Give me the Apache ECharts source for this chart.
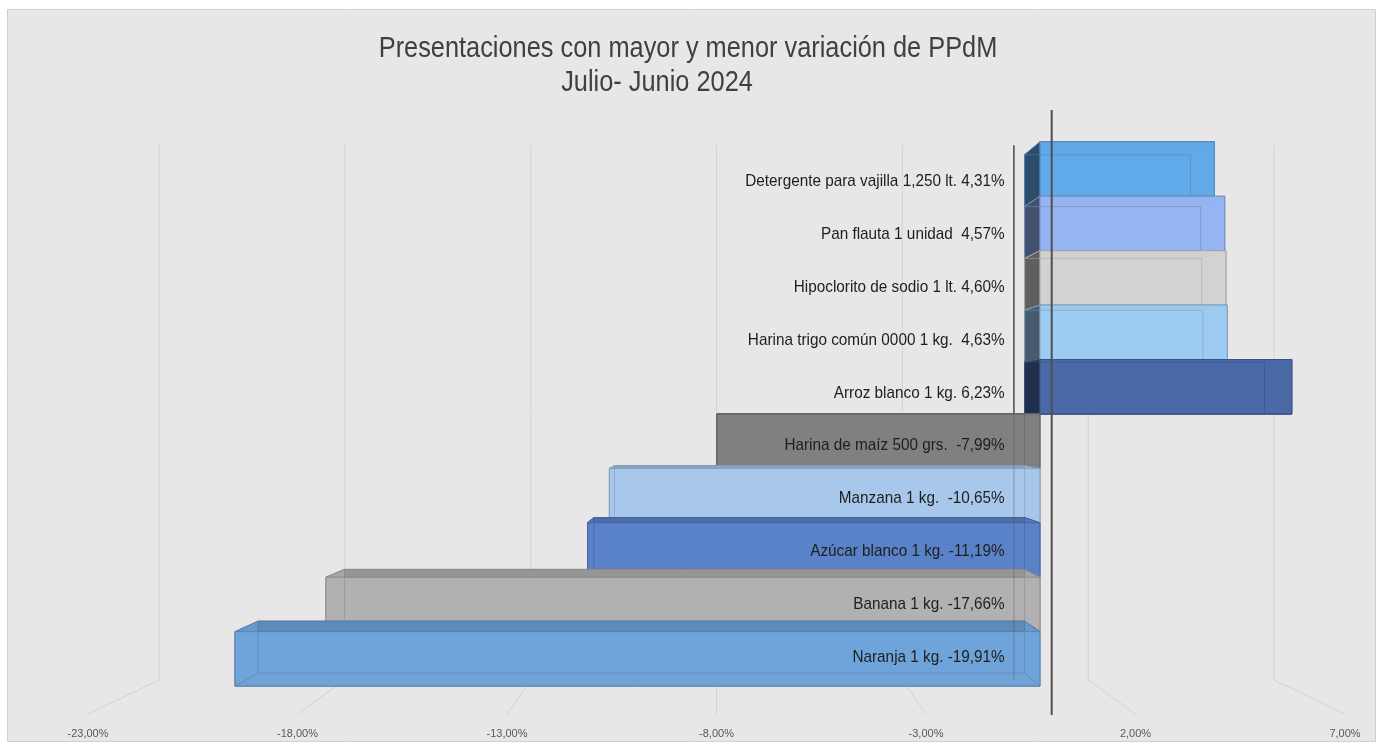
<!DOCTYPE html>
<html>
<head>
<meta charset="utf-8">
<script src="https://cdn.jsdelivr.net/npm/echarts@6/dist/echarts.min.js"></script>
<style>
html,body{margin:0;padding:0;background:#ffffff;}
#c{width:1383px;height:749px;}
</style>
</head>
<body>
<div id="c"></div>
<script>
// ---------- data ----------
const categories = [
  'Detergente para vajilla 1,250 lt.',
  'Pan flauta 1 unidad ',
  'Hipoclorito de sodio 1 lt.',
  'Harina trigo común 0000 1 kg. ',
  'Arroz blanco 1 kg.',
  'Harina de maíz 500 grs. ',
  'Manzana 1 kg. ',
  'Azúcar blanco 1 kg.',
  'Banana 1 kg.',
  'Naranja 1 kg.'
];
const values = [4.31, 4.57, 4.60, 4.63, 6.23, -7.99, -10.65, -11.19, -17.66, -19.91];
const tickValues = [-23, -18, -13, -8, -3, 2, 7];
const titleLine1 = 'Presentaciones con mayor y menor variación de PPdM';
const titleLine2 = 'Julio- Junio 2024';

// ---------- style ----------
const barColors = ['#62aaea', '#97b5f2', '#d3d3d3', '#9ecbf2', '#4a69a8',
                   '#808080', '#a8c8eb', '#5a82c9', '#b2b2b2', '#6fa5da'];
const FONT = '"Liberation Sans","Arial",sans-serif';
const VP = [717, 413];          // perspective vanishing point
const F_FRONT = 0.965, F_BACK = 0.919, F_WALL = 0.887;
const WALL_TOP = 111, FLOOR = 714;

function proj(x, y, f) { return [VP[0] + (x - VP[0]) * f, VP[1] + (y - VP[1]) * f]; }
function shade(hex, k) {
  const n = parseInt(hex.slice(1), 16);
  const r = Math.round(((n >> 16) & 255) * k), g = Math.round(((n >> 8) & 255) * k), b = Math.round((n & 255) * k);
  return 'rgb(' + Math.min(r,255) + ',' + Math.min(g,255) + ',' + Math.min(b,255) + ')';
}
function pct(v) { return v.toFixed(2).replace('.', ',') + '%'; }

const chart = echarts.init(document.getElementById('c'));

function gridRender(params, api) {
  const X = api.coord([api.value(0), 0])[0];
  const t = proj(X, WALL_TOP, F_WALL), b = proj(X, FLOOR, F_WALL);
  return { type: 'polyline', shape: { points: [t, b, [X, FLOOR]] },
           style: { stroke: '#d4d3d3', lineWidth: 1, fill: null } };
}

function zeroBackRender(op) {
  return function (params, api) {
    const X = api.coord([0, 0])[0];
    const t = proj(X, WALL_TOP, F_WALL), b = proj(X, FLOOR, F_WALL);
    return { type: 'line', shape: { x1: t[0], y1: t[1], x2: b[0], y2: b[1] },
             style: { stroke: '#555555', lineWidth: 1.5, opacity: op } };
  };
}
function zeroFrontRender(params, api) {
  const X = api.coord([0, 0])[0];
  return { type: 'line', shape: { x1: X, y1: WALL_TOP - 1, x2: X, y2: FLOOR + 1 },
           style: { stroke: '#505050', lineWidth: 2 } };
}

function barRender(params, api) {
  const v = api.value(0), i = api.value(1);
  const c = barColors[i];
  const p0 = api.coord([0, i]), p1 = api.coord([v, i]);
  const h = api.size([0, 1])[1];
  const yT = p0[1] - h / 2, yB = p0[1] + h / 2;
  const x0 = p0[0], x1 = p1[0];
  const F = (x, y) => proj(x, y, F_FRONT), B = (x, y) => proj(x, y, F_BACK);
  const edge = shade(c, 0.78);
  const poly = (pts, fill, stroke, op) => ({ type: 'polygon', shape: { points: pts },
    style: { fill: fill, stroke: stroke, lineWidth: 1, opacity: op == null ? 1 : op } });
  const children = [];
  children.push(poly([B(x0,yT), B(x1,yT), B(x1,yB), B(x0,yB)], shade(c, 0.95), edge));
  children.push(poly([F(x0,yT), F(x1,yT), B(x1,yT), B(x0,yT)], shade(c, 0.84), edge));
  children.push(poly([F(x0,yB), F(x1,yB), B(x1,yB), B(x0,yB)], shade(c, 0.84), edge));
  children.push(poly([F(x1,yT), B(x1,yT), B(x1,yB), F(x1,yB)], shade(c, 0.93), edge));
  children.push(poly([F(x0,yT), B(x0,yT), B(x0,yB), F(x0,yB)], v > 0 ? shade(c, 0.45) : shade(c, 0.93), edge));
  children.push(poly([F(x0,yT), F(x1,yT), F(x1,yB), F(x0,yB)], c, edge, 0.93));
  children.push({ type: 'polyline', shape: { points: [B(x0,yT), B(x1,yT), B(x1,yB), B(x0,yB), B(x0,yT)] },
    style: { stroke: edge, lineWidth: 1, fill: null, opacity: 0.55 } });
  children.push({ type: 'line', shape: { x1: F(x1,yB)[0], y1: F(x1,yB)[1], x2: B(x1,yB)[0], y2: B(x1,yB)[1] },
    style: { stroke: edge, lineWidth: 1, opacity: 0.55 } });
  children.push({ type: 'line', shape: { x1: F(x0,yB)[0], y1: F(x0,yB)[1], x2: B(x0,yB)[0], y2: B(x0,yB)[1] },
    style: { stroke: edge, lineWidth: 1, opacity: 0.55 } });
  return { type: 'group', children: children };
}

function labelRender(params, api) {
  const v = api.value(0), i = api.value(1);
  const p0 = api.coord([0, i]);
  const yf = VP[1] + (p0[1] - VP[1]) * F_FRONT;
  const ly = 593 + (yf - 593) * 0.97;
  return { type: 'text', x: p0[0] - 47, y: ly, scaleX: 0.9,
    style: { x: 0, y: 0, text: categories[i] + ' ' + pct(v),
      align: 'right', verticalAlign: 'middle', fill: '#1e1e1e', font: '17px ' + FONT } };
}

const barData = values.map((v, i) => [v, i]);

chart.setOption({
  backgroundColor: '#ffffff',
  animation: false,
  graphic: [
    { type: 'rect', z: -10, silent: true, shape: { x: 7.5, y: 9.5, width: 1368, height: 732 },
      style: { fill: '#e8e6e7', stroke: '#d0d0d0', lineWidth: 1 } },
    { type: 'text', z: 10, silent: true, x: 688, y: 49, scaleX: 0.845,
      style: { text: titleLine1, align: 'center', verticalAlign: 'middle', fill: '#404040', font: '30px ' + FONT } },
    { type: 'text', z: 10, silent: true, x: 657, y: 83, scaleX: 0.845,
      style: { text: titleLine2, align: 'center', verticalAlign: 'middle', fill: '#404040', font: '30px ' + FONT } }
  ],
  grid: { left: 88, right: 38, top: 132, bottom: 53 },
  xAxis: {
    type: 'value', min: tickValues[0], max: tickValues[tickValues.length - 1], interval: 5,
    axisLine: { show: false }, axisTick: { show: false }, splitLine: { show: false },
    axisLabel: { margin: 32, formatter: v => pct(v), color: '#595959', fontFamily: FONT, fontSize: 11 }
  },
  yAxis: { type: 'category', data: categories, inverse: true, show: false },
  series: [
    { type: 'custom', name: 'grid', renderItem: gridRender, data: tickValues.map(v => [v]), z: 1, silent: true },
    { type: 'custom', name: 'zeroBack', renderItem: zeroBackRender(1), data: [[0]], z: 2, silent: true },
    { type: 'custom', name: 'bars', renderItem: barRender, data: barData, encode: { x: 0, y: 1 }, z: 3 },
    { type: 'custom', name: 'zeroBackGhost', renderItem: zeroBackRender(0.3), data: [[0]], z: 4, silent: true },
    { type: 'custom', name: 'labels', renderItem: labelRender, data: barData, encode: { x: 0, y: 1 }, z: 5, silent: true },
    { type: 'custom', name: 'zeroFront', renderItem: zeroFrontRender, data: [[0]], z: 6, silent: true }
  ]
});
</script>
</body>
</html>
